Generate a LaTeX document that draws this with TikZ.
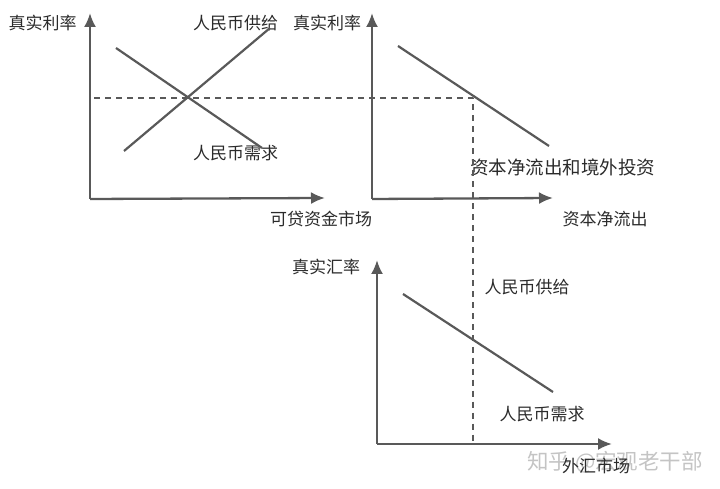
\documentclass[tikz,border=0pt]{standalone}
\usepackage{fontspec}
\setmainfont{Noto Sans CJK SC}
\usetikzlibrary{arrows.meta}
\definecolor{axisgray}{HTML}{595959}
\definecolor{labelgray}{HTML}{2B2B2B}
\definecolor{markgray}{HTML}{C4C4C4}
\tikzset{
  axisline/.style={axisgray,line width=2.3bp,-{Latex[length=14bp,width=12bp]}},
  curveline/.style={axisgray,line width=2.2bp},
  guideline/.style={axisgray,line width=2bp,dash pattern=on 6bp off 5bp},
  curvelabel/.style={labelgray,font=\fontsize{17bp}{18bp}\selectfont,inner sep=0pt},
  widelabel/.style={labelgray,font=\fontsize{18.5bp}{20bp}\selectfont,inner sep=0pt},
  marklabel/.style={markgray,font=\fontsize{21.5bp}{22bp}\selectfont,inner sep=0pt},
}
\begin{document}
\begin{tikzpicture}[x=1bp,y=1bp,line join=bevel]
\useasboundingbox (0,0) rectangle (720,489);
%% lending market
\coordinate (loan_o) at (90,290);
\coordinate (loan_y) at (90,476);
\coordinate (loan_x) at (325,291);
\coordinate (supply_a) at (124,338);
\coordinate (supply_b) at (270,461);
\coordinate (demand_a) at (116,441);
\coordinate (demand_b) at (262,341);
\node (loan_ylabel) at (42.5bp,466bp) [curvelabel] {真实利率};
\node (supply_label) at (235.5bp,466bp) [curvelabel] {人民币供给};
\node (demand_label) at (235.5bp,336bp) [curvelabel] {人民币需求};
\node (loan_xlabel) at (321bp,270bp) [curvelabel] {可贷资金市场};
\draw [axisline] (loan_o) -- (loan_y);
\draw [axisline] (loan_o) -- (loan_x);
\draw [curveline] (supply_a) -- (supply_b);
\draw [curveline] (demand_a) -- (demand_b);
%% net capital outflow
\coordinate (flow_o) at (372,290);
\coordinate (flow_y) at (372,476);
\coordinate (flow_x) at (553,291);
\coordinate (flow_a) at (398,443);
\coordinate (flow_b) at (549,343);
\node (flow_ylabel) at (327bp,466bp) [curvelabel] {真实利率};
\node (flow_label) at (562.5bp,322bp) [widelabel] {资本净流出和境外投资};
\node (flow_xlabel) at (605bp,270bp) [curvelabel] {资本净流出};
\draw [axisline] (flow_o) -- (flow_y);
\draw [axisline] (flow_o) -- (flow_x);
\draw [curveline] (flow_a) -- (flow_b);
%% foreign exchange market
\coordinate (fx_o) at (377,45);
\coordinate (fx_y) at (377,229);
\coordinate (fx_x) at (612,45);
\coordinate (fx_a) at (403,195);
\coordinate (fx_b) at (553,97);
\node (fx_ylabel) at (326bp,222bp) [curvelabel] {真实汇率};
\node (fxs_label) at (527bp,202bp) [curvelabel] {人民币供给};
\node (fxd_label) at (542bp,75bp) [curvelabel] {人民币需求};
\node (watermark) at (615bp,27bp) [marklabel] {知乎 @宏观老干部};
\node (fx_xlabel) at (596bp,23bp) [curvelabel] {外汇市场};
\draw [axisline] (fx_o) -- (fx_y);
\draw [axisline] (fx_o) -- (fx_x);
\draw [curveline] (fx_a) -- (fx_b);
%% equilibrium guides
\coordinate (guide_a) at (94,391);
\coordinate (guide_b) at (472.5,391);
\coordinate (guide_c) at (472.5,45);
\draw [guideline] (guide_a) -- (guide_b) -- (guide_c);
%
\end{tikzpicture}
\end{document}
